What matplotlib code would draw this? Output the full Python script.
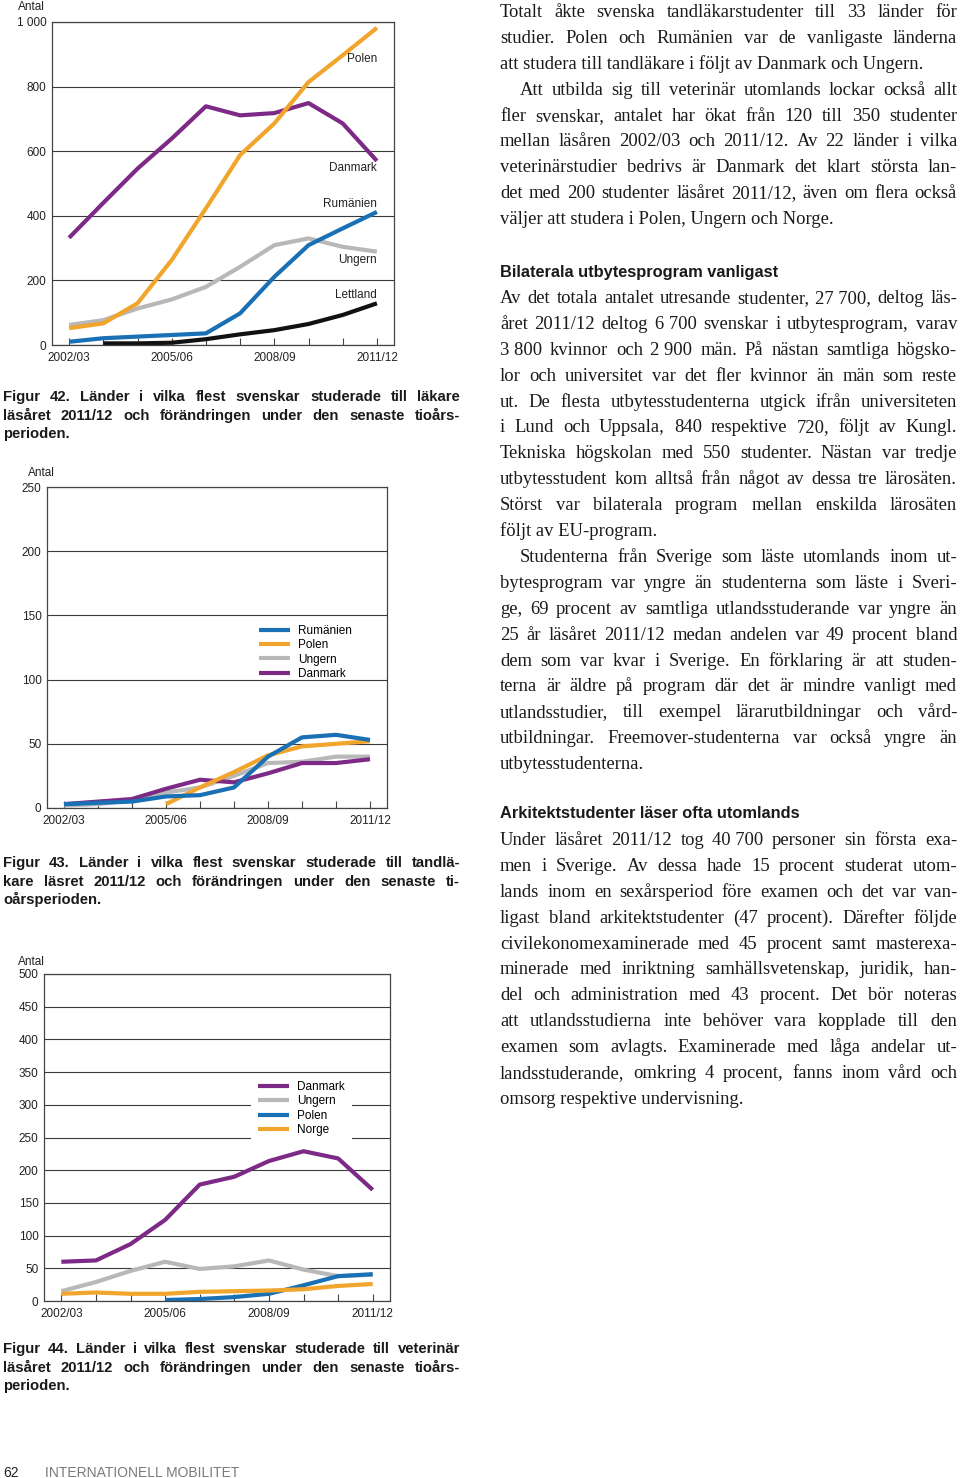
import numpy as np
import matplotlib
matplotlib.use('Agg')
import matplotlib.pyplot as plt

W, H = 960, 1478

years = ['2002/03', '2003/04', '2004/05', '2005/06', '2006/07',
         '2007/08', '2008/09', '2009/10', '2010/11', '2011/12']
nan = np.nan

# Figur 42 - läkare
lak_danmark = [332, 440, 546, 639, 739, 711, 718, 749, 686, 570]
lak_polen = [52, 67, 129, 263, 423, 588, 686, 814, 897, 982]
lak_ungern = [62, 77, 113, 141, 180, 242, 309, 330, 304, 289]
lak_rumanien = [10, 21, 26, 31, 36, 98, 211, 309, 361, 412]
lak_lettland = [nan, 5, 5, 7, 18, 33, 46, 65, 93, 129]

# Figur 43 - tandläkare
tand_rumanien = [3, 4, 5, 9, 10, 16, 40, 55, 57, 53]
tand_polen = [nan, nan, nan, 3, 16, 28, 41, 48, 50, 52]
tand_ungern = [2, 3, 6, 12, 16, 25, 35, 36, 40, 40]
tand_danmark = [3, 5, 7, 15, 22, 20, 27, 35, 35, 38]

# Figur 44 - veterinär
vet_danmark = [60, 62, 87, 124, 178, 190, 214, 229, 218, 170]
vet_ungern = [15, 29, 46, 60, 49, 53, 62, 48, 38, 40]
vet_polen = [nan, nan, nan, 1.5, 3, 6, 11, 24, 38, 41]
vet_norge = [11, 13, 11, 11, 14, 15, 16, 18, 23, 26]

PURPLE = '#7d2a87'
ORANGE = '#f2a52c'
GRAY = '#b8b8b8'
BLUE = '#1a70b5'
BLACK = '#111111'

SANS = 'Liberation Sans'
SERIF = 'Liberation Serif'

fig = plt.figure(figsize=(W / 100, H / 100), dpi=100)
renderer = fig.canvas.get_renderer()


def fx(x):
    return x / W


def fy(y):
    return 1 - y / H


def make_ax(left, top, right, bottom, ymax, ystep, ylabels):
    ax = fig.add_axes([fx(left), fy(bottom), (right - left) / W, (bottom - top) / H])
    x = np.arange(len(years))
    ax.set_xlim(-0.5, 9.5)
    ax.set_ylim(0, ymax)
    ax.set_xticks(x)
    ax.set_xticklabels([years[i] if i % 3 == 0 else '' for i in x],
                       fontsize=8.5, family=SANS, color='#222')
    ax.set_yticks(np.arange(0, ymax + 1, ystep))
    ax.set_yticklabels(ylabels, fontsize=8.5, family=SANS, color='#222')
    ax.tick_params(axis='x', direction='in', length=5, width=0.8, color='#444', pad=5)
    ax.tick_params(axis='y', length=0, pad=4)
    ax.yaxis.grid(True, color='#3a3a3a', linewidth=0.8)
    ax.set_axisbelow(True)
    for sp in ax.spines.values():
        sp.set_color('#444')
        sp.set_linewidth(0.9)
    return ax, x


def series(ax, x, vals, color, label=None):
    ax.plot(x, vals, color=color, lw=3, solid_capstyle='butt',
            solid_joinstyle='round', label=label)


# ---------- Figur 42 ----------
ax1, x = make_ax(52, 22, 394, 345, 1000, 200,
                 ['0', '200', '400', '600', '800', '1 000'])
series(ax1, x, lak_ungern, GRAY)
series(ax1, x, lak_danmark, PURPLE)
series(ax1, x, lak_polen, ORANGE)
series(ax1, x, lak_rumanien, BLUE)
series(ax1, x, lak_lettland, BLACK)
for name, yv in [('Polen', 885), ('Danmark', 548), ('Rumänien', 437),
                 ('Ungern', 263), ('Lettland', 155)]:
    ax1.text(9.0, yv, name, ha='right', va='center', fontsize=8.5,
             family=SANS, color='#222')
fig.text(fx(18), fy(7), 'Antal', fontsize=8.5, family=SANS, va='center', color='#222')

# ---------- Figur 43 ----------
ax2, x = make_ax(47, 487, 387, 808, 250, 50,
                 ['0', '50', '100', '150', '200', '250'])
series(ax2, x, tand_ungern, GRAY, 'Ungern')
series(ax2, x, tand_danmark, PURPLE, 'Danmark')
series(ax2, x, tand_polen, ORANGE, 'Polen')
series(ax2, x, tand_rumanien, BLUE, 'Rumänien')
h, l = ax2.get_legend_handles_labels()
order = ['Rumänien', 'Polen', 'Ungern', 'Danmark']
hh = [h[l.index(o)] for o in order]
ax2.legend(hh, order, loc='upper left', bbox_to_anchor=(fx(253), fy(619)),
           bbox_transform=fig.transFigure, frameon=False, borderpad=0,
           handlelength=2.6, handletextpad=0.7, labelspacing=0.2,
           prop={'family': SANS, 'size': 8.5})
fig.text(fx(28), fy(473), 'Antal', fontsize=8.5, family=SANS, va='center', color='#222')

# ---------- Figur 44 ----------
ax3, x = make_ax(44, 974, 390, 1301, 500, 50,
                 [str(v) for v in range(0, 501, 50)])
series(ax3, x, vet_ungern, GRAY, 'Ungern')
series(ax3, x, vet_danmark, PURPLE, 'Danmark')
series(ax3, x, vet_polen, BLUE, 'Polen')
series(ax3, x, vet_norge, ORANGE, 'Norge')
h, l = ax3.get_legend_handles_labels()
order = ['Danmark', 'Ungern', 'Polen', 'Norge']
hh = [h[l.index(o)] for o in order]
leg = ax3.legend(hh, order, loc='upper left', bbox_to_anchor=(fx(245), fy(1068)),
                 bbox_transform=fig.transFigure, frameon=True, borderpad=0.6,
                 handlelength=2.6, handletextpad=0.7, labelspacing=0.2,
                 prop={'family': SANS, 'size': 8.5}, fancybox=False)
leg.get_frame().set_facecolor('white')
leg.get_frame().set_edgecolor('none')
leg.get_frame().set_alpha(1)
fig.text(fx(18), fy(962), 'Antal', fontsize=8.5, family=SANS, va='center', color='#222')


# ---------- text helpers ----------
def put_line(s, x0, y, x1, size, family, weight='normal', justify=True, color='#1a1a1a'):
    if not justify:
        fig.text(fx(x0), fy(y), s, fontsize=size, family=family, weight=weight,
                 va='baseline', ha='left', color=color)
        return
    words = s.split(' ')
    texts = [fig.text(0, fy(y), w, fontsize=size, family=family, weight=weight,
                      va='baseline', ha='left', color=color) for w in words]
    widths = [t.get_window_extent(renderer).width for t in texts]
    gap = (x1 - x0 - sum(widths)) / max(len(words) - 1, 1)
    xx = x0
    for t, wd in zip(texts, widths):
        t.set_x(fx(xx))
        xx += wd + gap


def paragraph(lines, x0, y0, x1, step, size, family, weight='normal', indent=0):
    for i, s in enumerate(lines):
        last = i == len(lines) - 1
        put_line(s, x0 + (indent if i == 0 else 0), y0 + i * step, x1, size,
                 family, weight, justify=not last)


# captions
cap42 = ['Figur 42. Länder i vilka flest svenskar studerade till läkare',
         'läsåret 2011/12 och förändringen under den senaste tioårs-',
         'perioden.']
cap43 = ['Figur 43. Länder i vilka flest svenskar studerade till tandlä-',
         'kare läsret 2011/12 och förändringen under den senaste ti-',
         'oårsperioden.']
cap44 = ['Figur 44. Länder i vilka flest svenskar studerade till veterinär',
         'läsåret 2011/12 och förändringen under den senaste tioårs-',
         'perioden.']
paragraph(cap42, 3, 401, 460, 18.7, 10.7, SANS, 'bold')
paragraph(cap43, 3, 867, 460, 18.7, 10.7, SANS, 'bold')
paragraph(cap44, 3, 1353, 460, 18.7, 10.7, SANS, 'bold')

# right column
TX0, TX1, STEP, TS = 500, 957, 25.9, 13.4
p1 = ['Totalt åkte svenska tandläkarstudenter till 33 länder för',
      'studier. Polen och Rumänien var de vanligaste länderna',
      'att studera till tandläkare i följt av Danmark och Ungern.']
p2 = ['Att utbilda sig till veterinär utomlands lockar också allt',
      'fler svenskar, antalet har ökat från 120 till 350 studenter',
      'mellan läsåren 2002/03 och 2011/12. Av 22 länder i vilka',
      'veterinärstudier bedrivs är Danmark det klart största lan-',
      'det med 200 studenter läsåret 2011/12, även om flera också',
      'väljer att studera i Polen, Ungern och Norge.']
p3 = ['Av det totala antalet utresande studenter, 27\u00a0700, deltog läs-',
      'året 2011/12 deltog 6\u00a0700 svenskar i utbytesprogram, varav',
      '3\u00a0800 kvinnor och 2\u00a0900 män. På nästan samtliga högsko-',
      'lor och universitet var det fler kvinnor än män som reste',
      'ut. De flesta utbytesstudenterna utgick ifrån universiteten',
      'i Lund och Uppsala, 840 respektive 720, följt av Kungl.',
      'Tekniska högskolan med 550 studenter. Nästan var tredje',
      'utbytesstudent kom alltså från något av dessa tre lärosäten.',
      'Störst var bilaterala program mellan enskilda lärosäten',
      'följt av EU-program.']
p4 = ['Studenterna från Sverige som läste utomlands inom ut-',
      'bytesprogram var yngre än studenterna som läste i Sveri-',
      'ge, 69 procent av samtliga utlandsstuderande var yngre än',
      '25 år läsåret 2011/12 medan andelen var 49 procent bland',
      'dem som var kvar i Sverige. En förklaring är att studen-',
      'terna är äldre på program där det är mindre vanligt med',
      'utlandsstudier, till exempel lärarutbildningar och vård-',
      'utbildningar. Freemover-studenterna var också yngre än',
      'utbytesstudenterna.']
p5 = ['Under läsåret 2011/12 tog 40\u00a0700 personer sin första exa-',
      'men i Sverige. Av dessa hade 15 procent studerat utom-',
      'lands inom en sexårsperiod före examen och det var van-',
      'ligast bland arkitektstudenter (47 procent). Därefter följde',
      'civilekonomexaminerade med 45 procent samt masterexa-',
      'minerade med inriktning samhällsvetenskap, juridik, han-',
      'del och administration med 43 procent. Det bör noteras',
      'att utlandsstudierna inte behöver vara kopplade till den',
      'examen som avlagts. Examinerade med låga andelar ut-',
      'landsstuderande, omkring 4 procent, fanns inom vård och',
      'omsorg respektive undervisning.']

paragraph(p1, TX0, 17, TX1, STEP, TS, SERIF)
paragraph(p2, TX0, 17 + 3 * STEP, TX1, STEP, TS, SERIF, indent=20)
put_line('Bilaterala utbytesprogram vanligast', TX0, 277, TX1, 11.8, SANS,
         'bold', justify=False)
paragraph(p3, TX0, 303, TX1, STEP, TS, SERIF)
paragraph(p4, TX0, 303 + 10 * STEP, TX1, STEP, TS, SERIF, indent=20)
put_line('Arkitektstudenter läser ofta utomlands', TX0, 818, TX1, 11.8, SANS,
         'bold', justify=False)
paragraph(p5, TX0, 845, TX1, STEP, TS, SERIF)

# footer
fig.text(fx(3), fy(1477), '62', fontsize=10, family=SANS, va='baseline', color='#222')
fig.text(fx(45), fy(1477), 'INTERNATIONELL MOBILITET', fontsize=10, family=SANS,
         va='baseline', color='#7a7a7a')

fig.savefig('out.png', dpi=100)
